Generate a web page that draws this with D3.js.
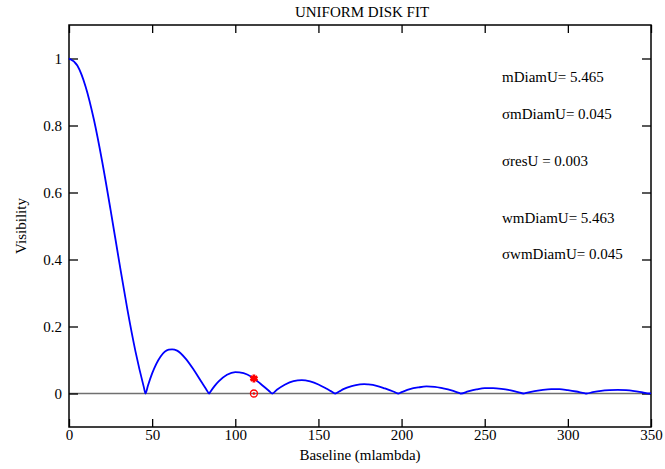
<!DOCTYPE html>
<html>
<head>
<meta charset="utf-8">
<script src="https://cdn.jsdelivr.net/npm/d3@7"></script>
<style>
  body { margin: 0; background: #fff; }
  svg text { font-family: "Liberation Serif", "DejaVu Serif", serif; fill: #000; }
</style>
</head>
<body>
<div id="chart"></div>
<script>
// baseline (mlambda) and visibility
var baseline = [0, 5, 10, 15, 20, 25, 30, 35, 40, 45,
  46, 47.5, 50, 55, 60, 62, 65, 70, 75, 80,
  82.5, 84.3, 85, 87.5, 90, 95, 100, 105, 110, 115,
  120, 122.2, 125, 130, 135, 140, 145, 150, 155, 157.5,
  160.1, 162.5, 165, 170, 175, 177.5, 180, 185, 190, 195,
  197.9, 200, 205, 210, 215, 220, 225, 230, 235, 235.7,
  240, 245, 250, 255, 260, 265, 270, 273.4, 275, 280,
  285, 290, 295, 300, 305, 310, 311.2, 315, 320, 325,
  330, 335, 340, 345, 349, 350];
var visibility = [1, 0.979, 0.916, 0.817, 0.691, 0.548, 0.399, 0.254, 0.125, 0.019,
  0, 0.024, 0.060, 0.110, 0.131, 0.132, 0.128, 0.105, 0.071, 0.032,
  0.013, 0, 0.005, 0.022, 0.036, 0.056, 0.064, 0.061, 0.049, 0.030,
  0.009, 0, 0.011, 0.027, 0.037, 0.040, 0.036, 0.027, 0.014, 0.007,
  0, 0.006, 0.013, 0.022, 0.027, 0.028, 0.027, 0.023, 0.015, 0.006,
  0, 0.004, 0.013, 0.018, 0.021, 0.020, 0.015, 0.009, 0.001, 0,
  0.006, 0.012, 0.016, 0.016, 0.014, 0.010, 0.004, 0, 0.002, 0.007,
  0.011, 0.013, 0.013, 0.010, 0.006, 0.001, 0, 0.004, 0.008, 0.010,
  0.011, 0.010, 0.007, 0.003, 0, 0.001];

// measured point (star) and its residual (circle)
var measBaseline = [111.2];
var measVis = [0.045];
var residVis = [0];

var xTicks = [0, 50, 100, 150, 200, 250, 300, 350];
var yTicks = [0, 0.2, 0.4, 0.6, 0.8, 1];

var notes = ["mDiamU= 5.465", "\u03c3mDiamU= 0.045", "\u03c3resU = 0.003", "wmDiamU= 5.463", "\u03c3wmDiamU= 0.045"];
var noteY = [82, 119, 166, 223, 259];

var svgWidth = 665;
var svgHeight = 469;
var margin = {top: 25, right: 14, bottom: 42, left: 69};
var width = svgWidth - margin.left - margin.right;
var height = svgHeight - margin.top - margin.bottom;

var svg = d3.select("#chart")
    .append("svg")
    .attr("width", svgWidth)
    .attr("height", svgHeight);

var chartGroup = svg.append("g")
    .attr("transform", `translate(${margin.left}, ${margin.top})`);

var x = d3.scaleLinear().domain([0, 350]).range([0, width]);
var y = d3.scaleLinear().domain([-0.1, 1.1]).range([height, 0]);

// zero line
chartGroup.append("line")
    .attr("x1", 0).attr("x2", width)
    .attr("y1", y(0)).attr("y2", y(0))
    .attr("stroke", "#707070")
    .attr("stroke-width", 1.5);

// inward ticks on all four sides
function styleAxis(g) {
    g.select(".domain").remove();
    g.selectAll(".tick line").attr("stroke", "#000").attr("stroke-width", 1.3);
    g.selectAll(".tick text").attr("font-size", 15).attr("font-family", "Liberation Serif");
}

chartGroup.append("g")
    .attr("transform", `translate(0, ${height})`)
    .call(d3.axisBottom(x).tickValues(xTicks).tickSize(-8).tickPadding(2).tickFormat(d3.format("d")))
    .call(styleAxis);

chartGroup.append("g")
    .call(d3.axisTop(x).tickValues(xTicks).tickSize(-8).tickFormat(""))
    .call(styleAxis);

chartGroup.append("g")
    .call(d3.axisLeft(y).tickValues(yTicks).tickSize(-9).tickPadding(7).tickFormat(d3.format("~g")))
    .call(styleAxis);

chartGroup.append("g")
    .attr("transform", `translate(${width}, 0)`)
    .call(d3.axisRight(y).tickValues(yTicks).tickSize(-9).tickFormat(""))
    .call(styleAxis);

// frame
chartGroup.append("rect")
    .attr("width", width)
    .attr("height", height)
    .attr("fill", "none")
    .attr("stroke", "#000")
    .attr("stroke-width", 1.5);

// model curve
var pts = baseline.map((b, i) => [b, visibility[i]]);
var line = d3.line()
    .x(d => x(d[0]))
    .y(d => y(d[1]))
    .curve(d3.curveMonotoneX);

chartGroup.append("path")
    .datum(pts)
    .attr("d", line)
    .attr("fill", "none")
    .attr("stroke", "#0000ff")
    .attr("stroke-width", 1.8);

// measured visibility
chartGroup.selectAll(".meas")
    .data(measBaseline)
    .enter()
    .append("path")
    .attr("class", "meas")
    .attr("transform", (d, i) => `translate(${x(d)}, ${y(measVis[i])})`)
    .attr("d", d3.symbol().type(d3.symbolAsterisk).size(45))
    .attr("fill", "none")
    .attr("stroke", "#ff0000")
    .attr("stroke-width", 2.8);

// residual
chartGroup.selectAll(".resid")
    .data(measBaseline)
    .enter()
    .append("circle")
    .attr("class", "resid")
    .attr("cx", d => x(d))
    .attr("cy", (d, i) => y(residVis[i]))
    .attr("r", 3.5)
    .attr("fill", "none")
    .attr("stroke", "#ff0000")
    .attr("stroke-width", 1.3);

chartGroup.selectAll(".residdot")
    .data(measBaseline)
    .enter()
    .append("circle")
    .attr("class", "residdot")
    .attr("cx", d => x(d))
    .attr("cy", (d, i) => y(residVis[i]))
    .attr("r", 1.2)
    .attr("fill", "#ff0000");

// fit results
svg.selectAll(".note")
    .data(notes)
    .enter()
    .append("text")
    .attr("class", "note")
    .attr("x", 502)
    .attr("y", (d, i) => noteY[i])
    .attr("font-size", 15)
    .text(d => d);

// titles
svg.append("text")
    .attr("x", 362)
    .attr("y", 17)
    .attr("text-anchor", "middle")
    .attr("font-size", 15)
    .text("UNIFORM DISK FIT");

svg.append("text")
    .attr("x", margin.left + width / 2)
    .attr("y", 460)
    .attr("text-anchor", "middle")
    .attr("font-size", 15)
    .text("Baseline (mlambda)");

svg.append("text")
    .attr("transform", `translate(26, ${margin.top + y(0.5)}) rotate(-90)`)
    .attr("text-anchor", "middle")
    .attr("font-size", 15)
    .text("Visibility");
</script>
</body>
</html>
